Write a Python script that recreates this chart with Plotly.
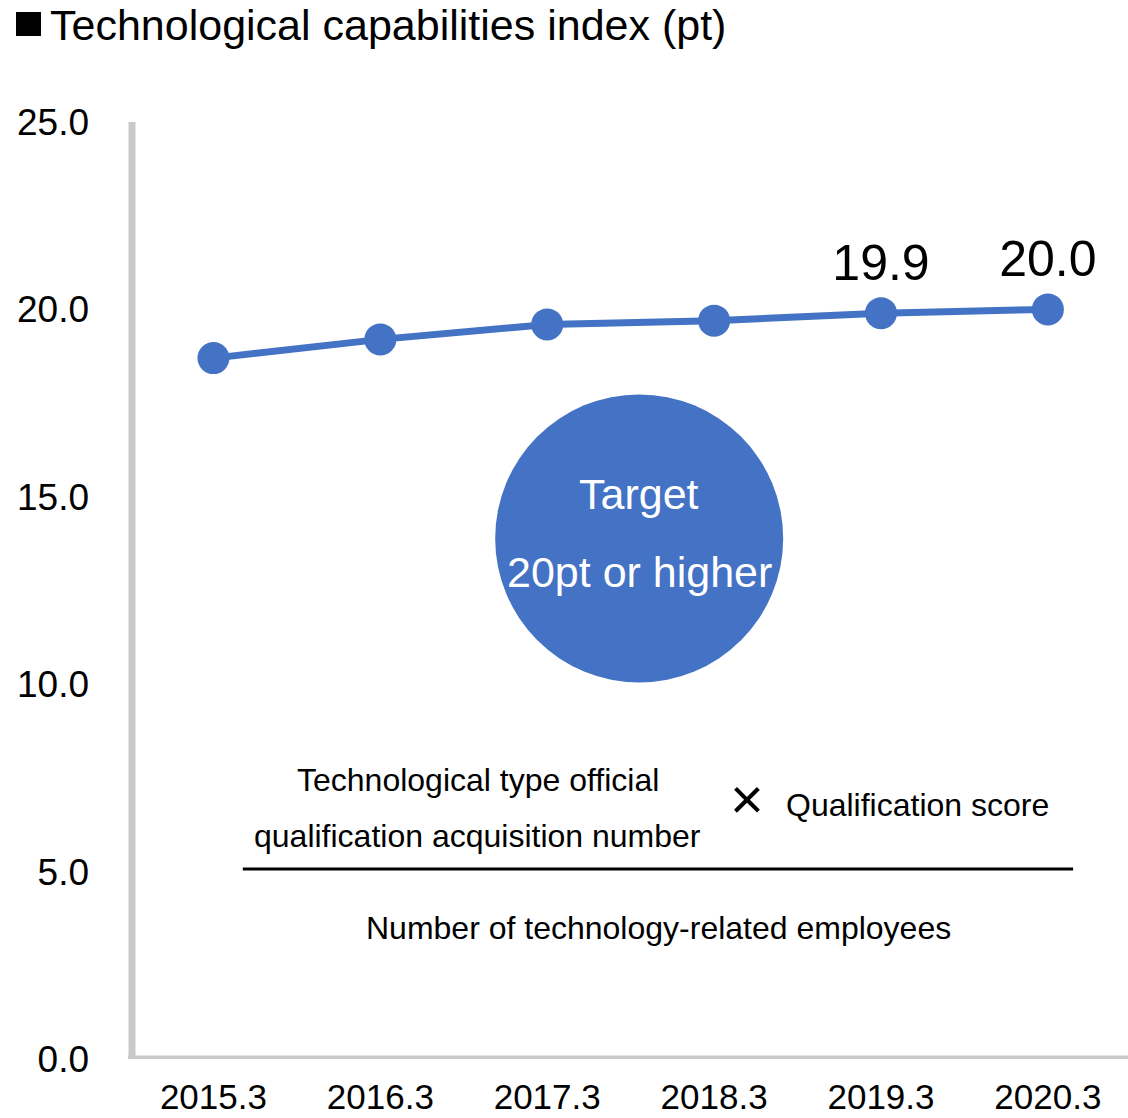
import plotly.graph_objects as go

# Technological capabilities index by fiscal year-end (pt)
periods = ["2015.3", "2016.3", "2017.3", "2018.3", "2019.3", "2020.3"]
index_pt = [18.7, 19.2, 19.6, 19.7, 19.9, 20.0]
labelled_periods = ["2019.3", "2020.3"]
y_ticks = [0, 5, 10, 15, 20, 25]

BLUE = "#4472C4"
GREY = "#C9C9C9"
FONT = "Liberation Sans, Arial, sans-serif"

# plot area in pixels: x 130..1128, y 122..1059
PLOT_L, PLOT_W = 130, 998
PLOT_B, PLOT_H = 1059, 937


def px_x(px):
    return (px - PLOT_L) / PLOT_W


def px_y(py):
    return (PLOT_B - py) / PLOT_H


point_text = [f"{v:.1f}" if p in labelled_periods else "" for p, v in zip(periods, index_pt)]

fig = go.Figure()
fig.add_trace(go.Scatter(
    x=periods,
    y=index_pt,
    mode="lines+markers+text",
    line=dict(color=BLUE, width=7),
    marker=dict(color=BLUE, size=32),
    text=point_text,
    textposition="top center",
    textfont=dict(family=FONT, size=50, color="black"),
    cliponaxis=False,
    hoverinfo="skip",
))

shapes = [
    # axis lines
    dict(type="line", xref="paper", yref="y", x0=px_x(132), x1=px_x(132), y0=-0.08, y1=25,
         line=dict(color=GREY, width=7), layer="below"),
    dict(type="line", xref="paper", yref="y", x0=px_x(128), x1=1.0, y0=0, y1=0,
         line=dict(color=GREY, width=7), layer="below"),
    # black square bullet before the title
    dict(type="rect", xref="paper", yref="paper",
         x0=px_x(16), x1=px_x(41), y0=px_y(36), y1=px_y(12),
         fillcolor="black", line=dict(width=0)),
    # target badge
    dict(type="circle", xref="x", yref="y", xsizemode="pixel", ysizemode="pixel",
         xanchor=2.551, yanchor=13.89, x0=-144, x1=144, y0=-144, y1=144,
         fillcolor=BLUE, line=dict(width=0)),
    # fraction bar of the formula
    dict(type="line", xref="x", yref="y", x0=0.176, x1=5.151, y0=5.07, y1=5.07,
         line=dict(color="black", width=3)),
]


def note(text, x, y, size=32, color="black"):
    return dict(text=text, x=x, y=y, xref="x", yref="y", showarrow=False,
                xanchor="center", yanchor="middle",
                font=dict(family=FONT, size=size, color=color))


annotations = [
    note("Target", 2.551, 15.07, size=43, color="white"),
    note("20pt or higher", 2.551, 12.99, size=43, color="white"),
    note("Technological type official", 1.585, 7.44),
    note("qualification acquisition number", 1.585, 5.95),
    note("×", 3.195, 6.95, size=58),
    note("Qualification score", 4.216, 6.77),
    note("Number of technology-related employees", 2.664, 3.49),
]

fig.update_layout(
    width=1128,
    height=1118,
    margin=dict(l=130, r=0, t=122, b=59, autoexpand=False),
    paper_bgcolor="white",
    plot_bgcolor="white",
    showlegend=False,
    font=dict(family=FONT, color="black"),
    title=dict(
        text="Technological capabilities index (pt)",
        xref="container", yref="container",
        x=50 / 1128, xanchor="left", y=1 - 25 / 1118, yanchor="middle",
        font=dict(family=FONT, size=43, color="black"),
    ),
    xaxis=dict(
        type="category",
        range=[-0.5, 5.48],
        automargin=False,
        showgrid=False, zeroline=False, showline=False,
        ticks="", ticklabelstandoff=14,
        tickfont=dict(family=FONT, size=35, color="black"),
    ),
    yaxis=dict(
        range=[0, 25],
        tickvals=y_ticks,
        tickformat=".1f",
        automargin=False,
        showgrid=False, zeroline=False, showline=False,
        ticks="", ticklabelstandoff=40,
        tickfont=dict(family=FONT, size=37, color="black"),
    ),
    shapes=shapes,
    annotations=annotations,
)

fig.write_html("out.html")
